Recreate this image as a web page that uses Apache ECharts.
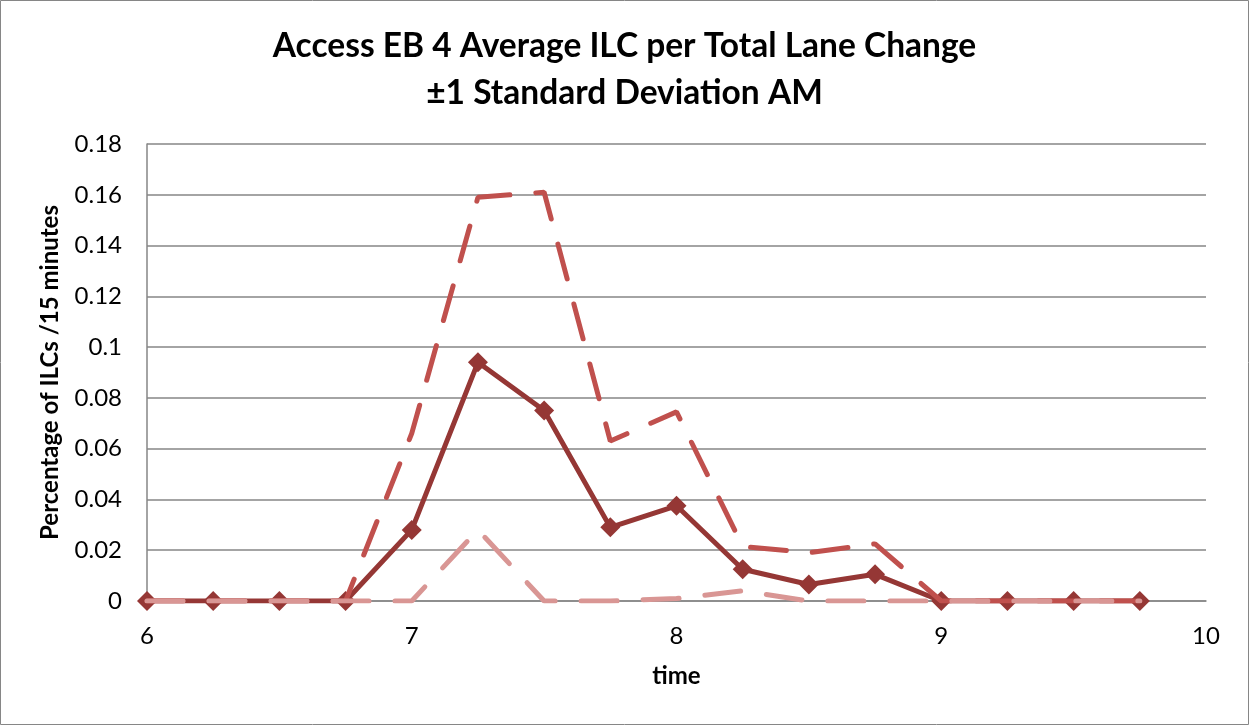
<!DOCTYPE html>
<html>
<head>
<meta charset="utf-8">
<script src="https://cdn.jsdelivr.net/npm/echarts@6/dist/echarts.min.js"></script>
<style>
  html, body { margin: 0; padding: 0; background: #fff; }
  #chart { width: 1249px; height: 725px; }
</style>
</head>
<body>
<div id="chart"></div>
<script>
const times = [6, 6.25, 6.5, 6.75, 7, 7.25, 7.5, 7.75, 8, 8.25, 8.5, 8.75, 9, 9.25, 9.5, 9.75];
const meanValues  = [0, 0, 0, 0, 0.028, 0.094, 0.075, 0.029, 0.0375, 0.0125, 0.0065, 0.0105, 0, 0, 0, 0];
const upperValues = [0, 0, 0, 0, 0.066, 0.159, 0.161, 0.063, 0.0745, 0.0215, 0.019, 0.0225, 0, 0, 0, 0];
const lowerValues = [0, 0, 0, 0, 0, 0.028, 0, 0, 0.001, 0.004, 0, 0, 0, 0, 0, 0];
const titleLines = ['Access EB 4 Average ILC per Total Lane Change', '±1 Standard Deviation AM'];
const yAxisTitle = 'Percentage of ILCs /15 minutes';
const xAxisTitle = 'time';

const pairs = vals => times.map((t, i) => [t, vals[i]]);
const FONT = 'Lato, "Open Sans", sans-serif';

const chart = echarts.init(document.getElementById('chart'), null, { renderer: 'canvas' });
chart.setOption({
  backgroundColor: '#ffffff',
  animation: false,
  title: {
    text: titleLines.join('\n'),
    left: 'center',
    top: 18,
    textStyle: { fontFamily: FONT, fontSize: 33.5, fontWeight: 'bold', color: '#000', lineHeight: 47 }
  },
  graphic: [{
    type: 'rect',
    shape: { x: 0.5, y: 0.5, width: 1248, height: 724 },
    style: { fill: 'none', stroke: '#868686', lineWidth: 1 },
    silent: true
  }],
  grid: { left: 147, right: 43, top: 144, bottom: 124, containLabel: false },
  xAxis: {
    type: 'value',
    min: 6, max: 10, interval: 1,
    name: xAxisTitle,
    nameLocation: 'middle',
    nameGap: 63,
    nameTextStyle: { fontFamily: FONT, fontSize: 24, fontWeight: 'bold', color: '#000' },
    axisLine: { show: true, lineStyle: { color: '#868686', width: 1.5 } },
    axisTick: { show: false },
    splitLine: { show: false },
    axisLabel: { fontFamily: FONT, fontSize: 24, color: '#000', margin: 23 }
  },
  yAxis: {
    type: 'value',
    min: 0, max: 0.18, interval: 0.02,
    name: yAxisTitle,
    nameLocation: 'middle',
    nameGap: 85,
    nameRotate: 90,
    nameTextStyle: { fontFamily: FONT, fontSize: 24, fontWeight: 'bold', color: '#000' },
    axisLine: { show: true, lineStyle: { color: '#868686', width: 1.5 } },
    axisTick: { show: false },
    splitLine: { show: true, lineStyle: { color: '#868686', width: 1.5 } },
    axisLabel: {
      fontFamily: FONT, fontSize: 24, color: '#000', margin: 25,
      formatter: v => String(parseFloat(v.toFixed(2)))
    }
  },
  series: [
    {
      name: 'Average',
      type: 'line',
      data: pairs(meanValues),
      symbol: 'diamond',
      symbolSize: 20,
      itemStyle: { color: '#953735' },
      lineStyle: { color: '#953735', width: 5 },
      z: 2
    },
    {
      name: '+1 SD',
      type: 'line',
      data: pairs(upperValues),
      symbol: 'none',
      lineStyle: { color: '#C0504D', width: 5, type: [36, 26], cap: 'round' },
      z: 3
    },
    {
      name: '-1 SD',
      type: 'line',
      data: pairs(lowerValues),
      symbol: 'none',
      lineStyle: { color: '#D99694', width: 5, type: [36, 26], cap: 'round' },
      z: 4
    }
  ]
});
</script>
</body>
</html>
